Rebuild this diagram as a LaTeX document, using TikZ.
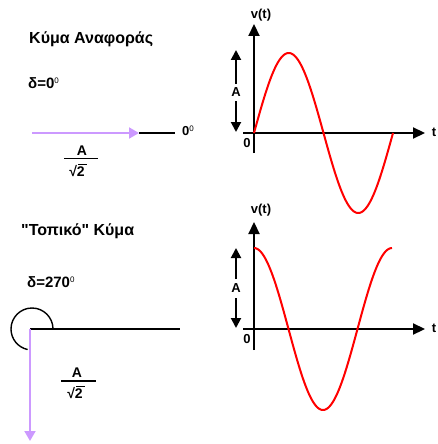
\documentclass[tikz,border=0pt]{standalone}
\usepackage{fontspec}
\setmainfont{Liberation Sans}
\newfontfamily\plainq{Liberation Sans}
\usetikzlibrary{arrows.meta}
\definecolor{phasor}{HTML}{CC99FF}
\definecolor{wave}{HTML}{FF0000}
\tikzset{
  lbl/.style={font=\bfseries\fontsize{13}{15}\selectfont, inner sep=0pt},
  frc/.style={font=\bfseries\fontsize{14}{16}\selectfont, inner sep=0pt},
  dlt/.style={font=\bfseries\fontsize{15}{17}\selectfont, inner sep=0pt, anchor=west},
  ttl/.style={font=\bfseries\fontsize{16}{19}\selectfont, inner sep=0pt, anchor=west},
  axis/.style={line width=2.2pt, -{Triangle[length=12pt,width=11pt]}},
  amp/.style={line width=2pt, -{Triangle[length=10pt,width=10pt]}},
  vec/.style={line width=2pt, draw=phasor, -{Triangle[length=10pt,width=11pt]}, color=phasor},
  ref/.style={line width=1.6pt},
  sig/.style={line width=2pt, draw=wave},
}
\newcommand{\dg}{\textsuperscript{\normalfont\fontsize{8}{9}\selectfont 0}}
\begin{document}
\begin{tikzpicture}[x=1pt,y=-1pt]
\useasboundingbox (0,0) rectangle (437,444);

% ---------- top left: reference wave ----------
\node[ttl] (t1) at (29,39) {Κύμα Αναφοράς};
\node[dlt] (d1) at (28,83) {δ=0\dg};
\coordinate (p1s) at (32,133);
\coordinate (p1t) at (139,133);
\coordinate (r1e) at (175,133);
\draw[ref] (p1t) -- (r1e);
\draw[vec] (p1s) -- (p1t);
\node[lbl, anchor=west] (z1) at (182,131) {0\dg};
\node[frc] (fa1) at (82,151) {A};
\coordinate (fl1a) at (64,158.5);
\coordinate (fl1b) at (98,158.5);
\draw[line width=1.3pt] (fl1a) -- (fl1b);
\node[frc] (fs1) at (77,171) {√2};
\coordinate (ov1a) at (78,164);
\coordinate (ov1b) at (87,164);
\draw[line width=0.9pt] (ov1a) -- (ov1b);

% ---------- top right: sine ----------
\coordinate (o1) at (254,133);
\coordinate (v1b) at (254,153);
\coordinate (v1t) at (254,24);
\coordinate (h1a) at (243,133);
\coordinate (h1b) at (425,133);
\draw[axis] (v1b) -- (v1t);
\draw[axis] (h1a) -- (h1b);
\node[lbl] (vt1) at (261,15) {v(t)};
\node[lbl] (tt1) at (434,132) {t};
\node[lbl] (o1l) at (247,143) {0};
\draw[sig] plot[domain=0:139, samples=120, smooth] ({254+\x},{133-80*sin(\x/139*360)});
\node[lbl] (a1) at (236,92) {A};
\coordinate (a1u0) at (236,84);
\coordinate (a1u1) at (236,50);
\coordinate (a1d0) at (236,101);
\coordinate (a1d1) at (236,132);
\draw[amp] (a1u0) -- (a1u1);
\draw[amp] (a1d0) -- (a1d1);

% ---------- bottom left: local wave ----------
\node[ttl] (t2) at (21,231) {{\plainq"}Τοπικό{\plainq"} Κύμα};
\node[dlt] (d2) at (27,282) {δ=270\dg};
\coordinate (p2s) at (30,329);
\coordinate (p2t) at (30,441);
\coordinate (r2e) at (180,329);
\draw[ref] (p2s) -- (r2e);
\draw[line width=1.4pt] (53,329) arc[start angle=0, end angle=-258, radius=21];
\draw[vec] (p2s) -- (p2t);
\node[frc] (fa2) at (77,373) {A};
\coordinate (fl2a) at (61,381);
\coordinate (fl2b) at (96,381);
\draw[line width=1.3pt] (fl2a) -- (fl2b);
\node[frc] (fs2) at (75,393) {√2};
\coordinate (ov2a) at (76,386.5);
\coordinate (ov2b) at (85,386.5);
\draw[line width=0.9pt] (ov2a) -- (ov2b);

% ---------- bottom right: cosine ----------
\coordinate (o2) at (254,329);
\coordinate (v2b) at (254,350);
\coordinate (v2t) at (254,222);
\coordinate (h2a) at (243,329);
\coordinate (h2b) at (425,329);
\draw[axis] (v2b) -- (v2t);
\draw[axis] (h2a) -- (h2b);
\node[lbl] (vt2) at (261,210) {v(t)};
\node[lbl] (tt2) at (434,328) {t};
\node[lbl] (o2l) at (247,339) {0};
\draw[sig] plot[domain=0:138, samples=120, smooth] ({254+\x},{329-81*cos(\x/138*360)});
\node[lbl] (a2) at (236,288) {A};
\coordinate (a2u0) at (236,279);
\coordinate (a2u1) at (236,248);
\coordinate (a2d0) at (236,298);
\coordinate (a2d1) at (236,328);
\draw[amp] (a2u0) -- (a2u1);
\draw[amp] (a2d0) -- (a2d1);
\end{tikzpicture}
\end{document}
